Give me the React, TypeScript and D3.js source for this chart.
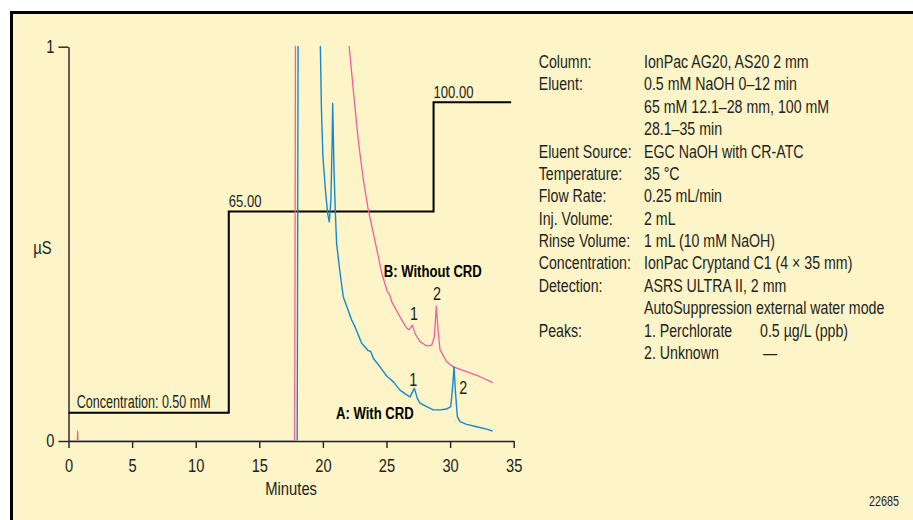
import React, { useEffect, useRef } from "react";
import * as d3 from "d3";

// Chromatogram A: with CRD (minutes, µS)
const timeA = [0, 17.98, 18.07, 18.2, 19.5, 19.8, 19.88, 20.0, 20.2, 20.37, 20.5, 20.63, 20.73, 20.77, 20.88, 20.98, 21.08, 21.35, 21.6, 22.26, 22.52, 23.05, 23.57, 23.76, 23.96, 24.49, 25.06, 25.22, 25.54, 26.06, 26.59, 26.85, 27.19, 27.42, 27.63, 28.16, 28.68, 29.21, 29.73, 30.05, 30.2, 30.31, 30.41, 30.57, 30.78, 31.3, 32.09, 32.88, 33.35];
const signalA = [0, 0, 1.3, 1.4, 1.3, 1.0, 0.848, 0.722, 0.636, 0.578, 0.556, 0.611, 0.764, 0.856, 0.68, 0.578, 0.5, 0.426, 0.366, 0.307, 0.29, 0.248, 0.229, 0.227, 0.21, 0.188, 0.163, 0.159, 0.15, 0.129, 0.117, 0.112, 0.134, 0.108, 0.096, 0.087, 0.079, 0.079, 0.081, 0.087, 0.138, 0.188, 0.129, 0.062, 0.049, 0.042, 0.036, 0.03, 0.025];

// Chromatogram B: without CRD
const timeB = [0, 0.7, 0.72, 0.74, 17.78, 17.86, 18.0, 21.5, 22.07, 22.39, 22.78, 23.18, 23.57, 23.96, 24.36, 24.62, 25.06, 25.27, 25.41, 26.06, 26.59, 26.77, 27.03, 27.24, 27.63, 28.16, 28.55, 28.76, 28.92, 29.05, 29.21, 29.73, 30.25, 31.3, 32.35, 33.35];
const signalB = [0, 0, 0.025, 0, 0, 1.3, 1.4, 1.3, 1.0, 0.89, 0.763, 0.662, 0.586, 0.528, 0.467, 0.426, 0.379, 0.37, 0.353, 0.315, 0.286, 0.282, 0.294, 0.273, 0.252, 0.241, 0.243, 0.264, 0.342, 0.282, 0.231, 0.201, 0.188, 0.176, 0.163, 0.148];

// Eluent concentration step program (minutes, mM)
const concTime = [0, 12.6, 12.6, 28.7, 28.7, 34.8];
const concValue = [0.5, 0.5, 65, 65, 100, 100];
const concLabels = ["Concentration: 0.50 mM", "65.00", "100.00"];
const concLabelTime = [0.65, 12.6, 28.7];
const concLabelValue = [0.5, 65, 100];

const xTicks = [0, 5, 10, 15, 20, 25, 30, 35];
const yTicks = [0, 1];

const peakText = ["1", "2", "1", "2"];
const peakTime = [27.17, 28.98, 27.1, 31.04];
const peakValue = [0.306, 0.357, 0.139, 0.12];

const conditionLabels = ["Column:", "Eluent:", "", "", "Eluent Source:", "Temperature:", "Flow Rate:", "Inj. Volume:", "Rinse Volume:", "Concentration:", "Detection:", "", "Peaks:", ""];
const conditionValues = ["IonPac AG20, AS20 2 mm", "0.5 mM NaOH 0–12 min", "65 mM 12.1–28 mm, 100 mM", "28.1–35 min", "EGC NaOH with CR-ATC", "35 °C", "0.25 mL/min", "2 mL", "1 mL (10 mM NaOH)", "IonPac Cryptand C1 (4 × 35 mm)", "ASRS ULTRA II, 2 mm", "AutoSuppression external water mode", "1. Perchlorate", "2. Unknown"];
const peakAmounts = ["0.5 µg/L (ppb)", "—"];

const W = 913;
const H = 520;
const FONT = '"Liberation Sans", Arial, sans-serif';
const INK = "#231f20";
const BLUE = "#1588cf";
const PINK = "#ee5f9f";

export default function App() {
  const svgRef = useRef<SVGSVGElement>(null);

  useEffect(() => {
    const el = svgRef.current;
    if (!el) return;
    d3.select(el).selectAll("*").remove();
    const svg = d3.select(el);

    // condensed text: regular face squeezed horizontally
    const label = (
      parent: d3.Selection<any, any, any, any>,
      tx: number,
      ty: number,
      txt: string,
      size: number,
      sx: number,
      anchor = "start",
      weight = "normal"
    ) =>
      parent.append("text")
        .attr("transform", `translate(${tx},${ty}) scale(${sx},1)`)
        .attr("text-anchor", anchor)
        .attr("font-family", FONT)
        .attr("font-size", size)
        .attr("font-weight", weight)
        .attr("fill", INK)
        .text(txt);

    // frame
    svg.append("rect").attr("width", W).attr("height", H).attr("fill", "#fff");
    svg.append("rect")
      .attr("x", 11.5).attr("y", 12.5)
      .attr("width", 1000).attr("height", 600)
      .attr("fill", "#fdf4c8")
      .attr("stroke", "#000")
      .attr("stroke-width", 3);

    const x = d3.scaleLinear().domain([0, 35]).range([68.5, 513.7]);
    const y = d3.scaleLinear().domain([0, 1]).range([441, 46.7]);
    const yc = d3.scaleLinear().domain([0.5, 100]).range([412.7, 102.3]);

    svg.append("defs").append("clipPath").attr("id", "plotClip")
      .append("rect").attr("x", 68.5).attr("y", 46).attr("width", 460).attr("height", 394.3);

    // concentration step
    const concLine = d3.line<number>().x((d, i) => x(concTime[i])).y((d) => yc(d));
    svg.append("path")
      .datum(concValue)
      .attr("fill", "none")
      .attr("stroke", "#000")
      .attr("stroke-width", 2)
      .attr("d", concLine);

    concLabels.forEach((t, i) =>
      i === 0
        ? label(svg, x(concLabelTime[i]), yc(concLabelValue[i]) - 4.5, t, 17.7, 0.71)
        : label(svg, x(concLabelTime[i]), yc(concLabelValue[i]) - 4.5, t, 17.2, 0.76)
    );

    // traces
    const plot = svg.append("g").attr("clip-path", "url(#plotClip)");
    const trace = (times: number[]) => d3.line<number>().x((d, i) => x(times[i])).y((d) => y(d));
    plot.append("path").datum(signalB)
      .attr("fill", "none").attr("stroke", PINK).attr("stroke-width", 1.3)
      .attr("stroke-linejoin", "round")
      .attr("d", trace(timeB));
    plot.append("path").datum(signalA)
      .attr("fill", "none").attr("stroke", BLUE).attr("stroke-width", 1.4)
      .attr("stroke-linejoin", "round")
      .attr("d", trace(timeA));

    // axes
    const xAxis = svg.append("g")
      .attr("transform", `translate(0,${y(0)})`)
      .call(d3.axisBottom(x).tickValues(xTicks).tickSize(7).tickSizeOuter(0).tickPadding(11));
    const yAxis = svg.append("g")
      .attr("transform", `translate(${x(0)},0)`)
      .call(d3.axisLeft(y).tickValues(yTicks).tickSize(10).tickSizeOuter(0).tickPadding(4).tickFormat(d3.format("d")));
    [xAxis, yAxis].forEach((g) => {
      g.attr("font-family", FONT).attr("font-size", 18.3);
      g.selectAll("path, line").attr("stroke", INK).attr("stroke-width", 1.4);
      g.selectAll<SVGTextElement, unknown>("text").each(function () {
        const t = d3.select(this);
        const tx = +(t.attr("x") || 0);
        t.attr("x", 0).attr("fill", INK).attr("transform", `translate(${tx},0) scale(0.8,1)`);
      });
    });

    label(svg, (x(0) + x(35)) / 2, 495, "Minutes", 18.5, 0.8, "middle");
    label(svg, 51.7, 253.5, "µS", 18.5, 0.8, "end");

    // series labels
    label(svg, x(24.78), 277, "B: Without CRD", 16.6, 0.79, "start", "bold").attr("fill", "#000");
    label(svg, x(21.03), 418.5, "A: With CRD", 16.6, 0.79, "start", "bold").attr("fill", "#000");

    // peak numbers
    peakText.forEach((t, i) => label(svg, x(peakTime[i]), y(peakValue[i]), t, 18, 0.8, "middle"));

    // conditions block
    const info = svg.append("g");
    const lineH = 22.38;
    const fs = 18.5;
    const sx = 0.767;
    conditionLabels.forEach((t, i) => { if (t) label(info, 538.7, 68 + i * lineH, t, fs, sx); });
    conditionValues.forEach((t, i) => label(info, 644, 68 + i * lineH, t, fs, sx));
    peakAmounts.forEach((t, i) => label(info, i === 0 ? 760 : 763, 68 + (12 + i) * lineH, t, fs, sx));

    label(svg, 869, 506, "22685", 14, 0.77);
  }, []);

  return (
    <svg
      ref={svgRef}
      width={W}
      height={H}
      viewBox={`0 0 ${W} ${H}`}
      style={{ position: "absolute", left: 0, top: 0, display: "block" }}
    />
  );
}
